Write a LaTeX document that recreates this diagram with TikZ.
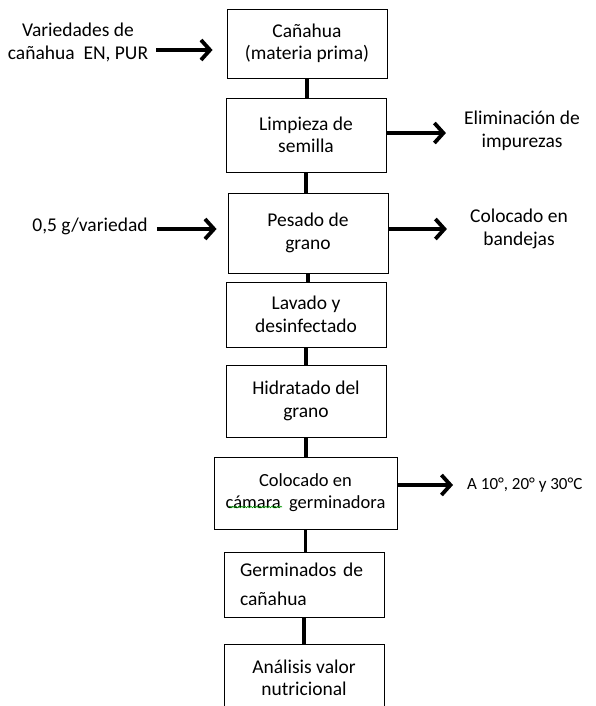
\documentclass[tikz,border=0pt]{standalone}
\usepackage{fontspec}
\setmainfont{Carlito}
\usetikzlibrary{arrows.meta,decorations.pathmorphing}
\begin{document}
\begin{tikzpicture}[x=1pt,y=-1pt,
  every node/.style={font=\fontsize{19.5}{22.5}\selectfont, align=center, inner sep=2pt},
  box/.style={draw, line width=0.9pt, minimum width=160pt},
  conn/.style={line width=3.5pt},
  arr/.style={line width=3.8pt, -{Straight Barb[length=9pt,width=20pt,line width=3.8pt]}}]
\fill[white] (0,0) rectangle (595,706);
\useasboundingbox (0,0) rectangle (595,706);
\clip (0,0) rectangle (595,706);
% boxes
\node[box, minimum height=69pt] (b1) at (307,43.5) {Cañahua\\(materia prima)};
\node[box, minimum height=74pt] (b2) at (306,135) {Limpieza de\\semilla};
\node[box, minimum height=80pt] (b3) at (308,233) {Pesado de\\grano};
\node[box, minimum height=65pt] (b4) at (306,314.5) {Lavado y\\desinfectado};
\node[box, minimum height=72pt] (b5) at (306,401) {Hidratado del\\grano};
\node[box, minimum width=183pt, minimum height=72pt, font=\fontsize{18.5}{22}\selectfont] (b6) at (305.5,493) {Colocado en\\cámara\ \ germinadora};
\node[box, minimum height=65pt, align=left, text width=128pt, font=\fontsize{19.5}{29}\selectfont] (b7) at (304,584.5) {Germinados de\\cañahua};
\node[box, minimum height=68pt] (b8) at (304,678) {Análisis valor\\nutricional};
% side texts
\node (var) at (78,42.5) {Variedades de\\cañahua\ \ EN, PUR};
\node (elim) at (522,131) {Eliminación de\\impurezas};
\node (g05) at (90,226) {0,5 g/variedad};
\node (band) at (519,229) {Colocado en\\bandejas};
\node[anchor=west, font=\fontsize{17}{20}\selectfont] (temp) at (465,485) {A 10°, 20° y 30°C};
% connectors
\foreach \a/\b in {b1/b2,b2/b3,b3/b4,b4/b5,b5/b6,b6/b7,b7/b8}
  \draw[conn] (\a.south) -- (\a.south |- \b.north);
% arrows
\coordinate (y1) at (0,50);
\coordinate (y2) at (0,133);
\coordinate (y3) at (0,229);
\coordinate (y5) at (0,485);
\draw[arr, shorten <=6pt, shorten >=14pt] (var.east |- y1) -- (b1.west |- y1);
\draw[arr, shorten >=16pt] (b2.east |- y2) -- (elim.west |- y2);
\draw[arr, shorten <=7pt, shorten >=11pt] (g05.east |- y3) -- (b3.west |- y3);
\draw[arr, shorten >=21pt] (b3.east |- y3) -- (band.west |- y3);
\draw[arr, shorten >=12pt] (b6.east |- y5) -- (temp.west |- y5);
% spell-check underline
\draw[green!60!black, line width=0.6pt, decorate, decoration={snake, amplitude=0.8pt, segment length=3pt}] (229,507) -- (282,507);
\end{tikzpicture}
\end{document}
